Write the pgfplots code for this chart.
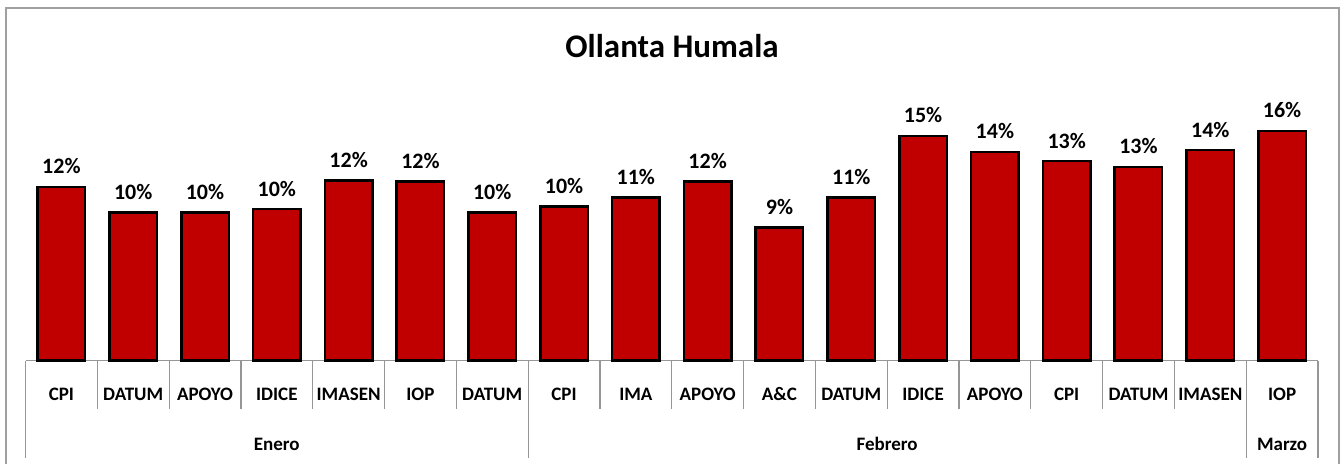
\documentclass[border=0pt]{standalone}
\usepackage{pgfplots}
\pgfplotsset{compat=1.18}
\usepackage{pgfplotstable}
\usepackage{fontspec}
\setmainfont{Carlito}
\definecolor{barred}{RGB}{192,0,0}
\definecolor{sepgray}{RGB}{150,150,150}
\definecolor{framegray}{RGB}{160,160,160}
\pgfplotstableread{
x val lab
0 11.98 12
1 10.21 10
2 10.21 10
3 10.45 10
4 12.40 12
5 12.33 12
6 10.21 10
7 10.63 10
8 11.25 11
9 12.33 12
10 9.18 9
11 11.25 11
12 15.48 15
13 14.39 14
14 13.75 13
15 13.36 13
16 14.51 14
17 15.84 16
}\datatable
\newcommand{\shortsep}[1]{\draw[sepgray, line width=1.2pt] (axis cs:#1,0) -- ([yshift=-48pt]axis cs:#1,0);}
\newcommand{\longsep}[1]{\draw[sepgray, line width=1.2pt] (axis cs:#1,0) -- ([yshift=-97.5pt]axis cs:#1,0);}
\begin{document}
\begin{tikzpicture}
\useasboundingbox (0,0) rectangle (1343pt,463pt);
\draw[framegray, line width=2pt] (6pt,-5pt) -- (6pt,455pt) -- (1339pt,455pt) -- (1339pt,-5pt);
\node[font=\fontsize{33}{36}\selectfont\bfseries, anchor=base] at (672pt,405.5pt) {Ollanta Humala};
\begin{axis}[
  at={(25.5pt,102.3pt)}, anchor=south west,
  scale only axis, width=1292.5pt, height=270pt,
  xmin=-0.5, xmax=17.5, ymin=0, ymax=18.6,
  enlargelimits=false, clip=false,
  axis x line*=bottom, axis y line=none,
  x axis line style={draw=sepgray, line width=1.5pt},
  ytick=\empty,
  xtick={0,...,17},
  xticklabels={CPI,DATUM,APOYO,IDICE,IMASEN,IOP,DATUM,CPI,IMA,APOYO,A\&C,DATUM,IDICE,APOYO,CPI,DATUM,IMASEN,IOP},
  xtick style={draw=none}, major tick length=0pt,
  xticklabel style={font=\fontsize{19}{22}\selectfont\bfseries, anchor=base, yshift=-39.5pt},
  ybar, bar width=47.5pt,
]
\addplot[fill=barred, draw=black, line width=2.5pt,
  point meta=explicit symbolic,
  nodes near coords={\pgfplotspointmeta\%},
  every node near coord/.append style={font=\fontsize{22}{24}\selectfont\bfseries, anchor=base, yshift=13pt, text=black}]
  table[x=x, y=val, meta=lab]{\datatable};
\shortsep{0.5}\shortsep{1.5}\shortsep{2.5}\shortsep{3.5}\shortsep{4.5}\shortsep{5.5}
\shortsep{7.5}\shortsep{8.5}\shortsep{9.5}\shortsep{10.5}\shortsep{11.5}\shortsep{12.5}
\shortsep{13.5}\shortsep{14.5}\shortsep{15.5}
\longsep{-0.5}\longsep{6.5}\longsep{16.5}\longsep{17.5}
\node[anchor=base, font=\fontsize{19}{22}\selectfont\bfseries] at ([yshift=-89.5pt]axis cs:3,0) {Enero};
\node[anchor=base, font=\fontsize{19}{22}\selectfont\bfseries] at ([yshift=-89.5pt]axis cs:11.5,0) {Febrero};
\node[anchor=base, font=\fontsize{19}{22}\selectfont\bfseries] at ([yshift=-89.5pt]axis cs:17,0) {Marzo};
\end{axis}
\end{tikzpicture}
\end{document}
